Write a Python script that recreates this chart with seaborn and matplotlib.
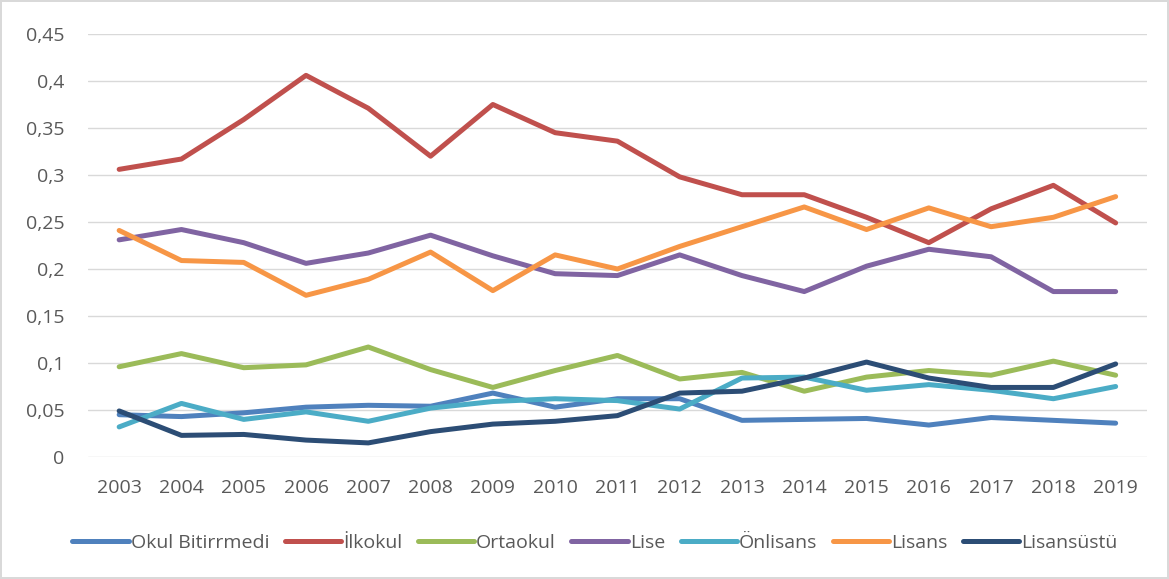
import pandas as pd
import matplotlib.pyplot as plt
import seaborn as sns
from matplotlib.ticker import FuncFormatter, MultipleLocator

years = list(range(2003, 2020))

okul_bitirmedi = [0.045, 0.043, 0.047, 0.053, 0.055, 0.054, 0.068, 0.053, 0.062,
                  0.062, 0.039, 0.040, 0.041, 0.034, 0.042, 0.039, 0.036]
ilkokul = [0.306, 0.317, 0.359, 0.406, 0.371, 0.320, 0.375, 0.345, 0.336,
           0.298, 0.279, 0.279, 0.255, 0.228, 0.264, 0.289, 0.249]
ortaokul = [0.096, 0.110, 0.095, 0.098, 0.117, 0.093, 0.074, 0.092, 0.108,
            0.083, 0.090, 0.070, 0.085, 0.092, 0.087, 0.102, 0.087]
lise = [0.231, 0.242, 0.228, 0.206, 0.217, 0.236, 0.214, 0.195, 0.193,
        0.215, 0.193, 0.176, 0.203, 0.221, 0.213, 0.176, 0.176]
onlisans = [0.032, 0.057, 0.040, 0.048, 0.038, 0.052, 0.059, 0.062, 0.060,
            0.051, 0.084, 0.085, 0.071, 0.077, 0.071, 0.062, 0.075]
lisans = [0.241, 0.209, 0.207, 0.172, 0.189, 0.218, 0.177, 0.215, 0.200,
          0.224, 0.245, 0.266, 0.242, 0.265, 0.245, 0.255, 0.277]
lisansustu = [0.049, 0.023, 0.024, 0.018, 0.015, 0.027, 0.035, 0.038, 0.044,
              0.068, 0.070, 0.084, 0.101, 0.084, 0.074, 0.074, 0.099]

series = {
    "Okul Bitirrmedi": okul_bitirmedi,
    "İlkokul": ilkokul,
    "Ortaokul": ortaokul,
    "Lise": lise,
    "Önlisans": onlisans,
    "Lisans": lisans,
    "Lisansüstü": lisansustu,
}
colors = ["#4F81BD", "#C0504D", "#9BBB59", "#8064A2", "#4BACC6", "#F79646", "#2C4D75"]

rows = []
for name, vals in series.items():
    for y, v in zip(years, vals):
        rows.append({"Yıl": y, "Değer": v, "Seri": name})
df = pd.DataFrame(rows)

sns.set_theme(style="white")
plt.rcParams["font.family"] = ["Open Sans", "DejaVu Sans"]

fig = plt.figure(figsize=(11.69, 5.79), dpi=100)
ax = fig.add_axes([0.0753, 0.2107, 0.9057, 0.7306])

sns.lineplot(data=df, x="Yıl", y="Değer", hue="Seri", palette=colors,
             linewidth=3.6, ax=ax, legend=False)

ax.set_xlim(2002.5, 2019.5)
ax.set_ylim(0, 0.45)
ax.yaxis.set_major_locator(MultipleLocator(0.05))
ax.set_xticks(years)
ax.yaxis.set_major_formatter(FuncFormatter(
    lambda v, p: ("%g" % round(v, 2)).replace(".", ",")))
ax.grid(axis="y", color="#D9D9D9", linewidth=1)
ax.set_axisbelow(True)
for s in ax.spines.values():
    s.set_visible(False)
ax.tick_params(axis="both", length=0, labelsize=14, labelcolor="#595959")
ax.tick_params(axis="x", pad=16)
ax.tick_params(axis="y", pad=17)
ax.set_xlabel("")
ax.set_ylabel("")

handles = [plt.Line2D([], [], color=c, linewidth=3.6, solid_capstyle="round")
           for c in colors]
fig.legend(handles, list(series.keys()), loc="center", ncol=7,
           bbox_to_anchor=(0.509, 0.062), frameon=False, fontsize=14,
           handlelength=2.9, handletextpad=0.1, columnspacing=0.8,
           labelcolor="#595959")

fig.patch.set_edgecolor("#D9D9D9")
fig.patch.set_linewidth(1.5)

fig.savefig("out.png", dpi=100, edgecolor=fig.get_edgecolor())
